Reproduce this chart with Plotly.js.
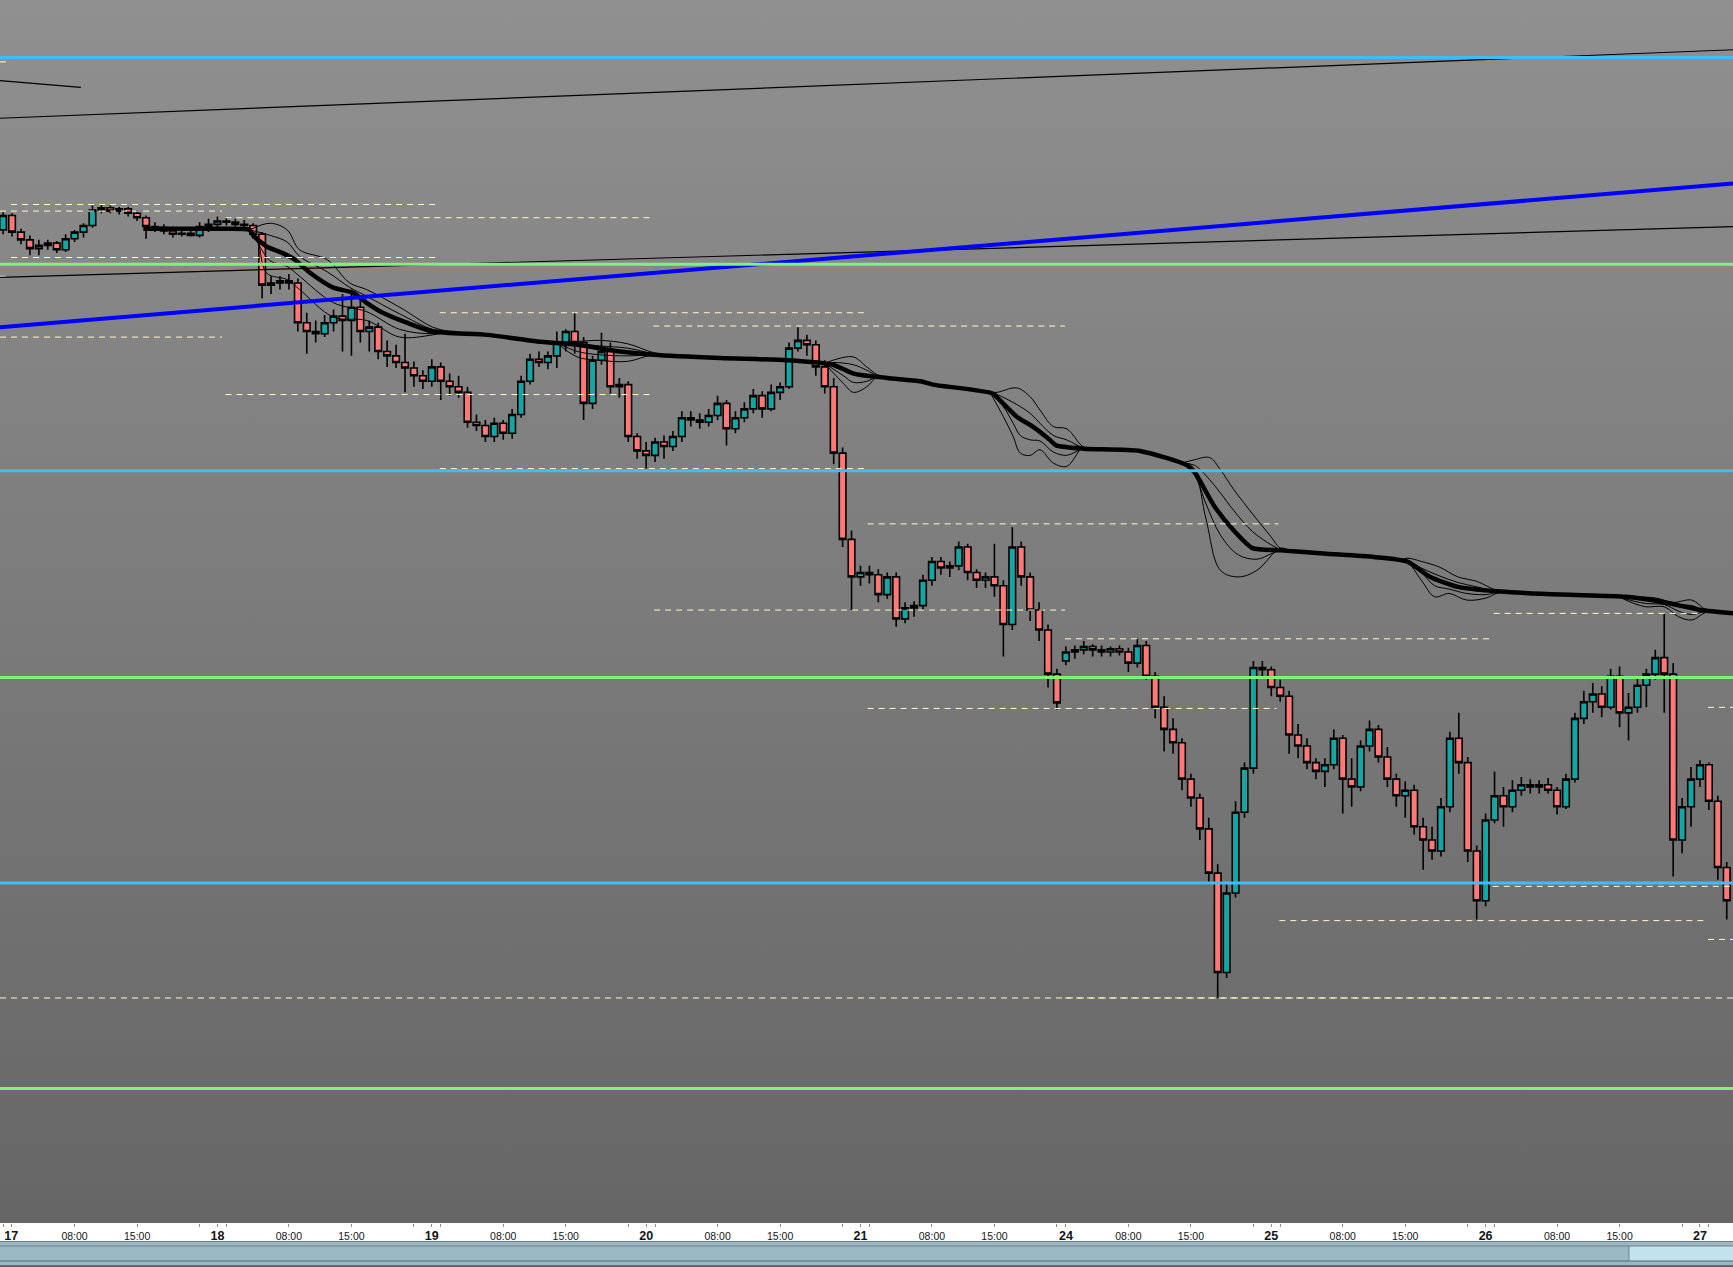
<!DOCTYPE html>
<html><head><meta charset="utf-8">
<script src="https://cdn.plot.ly/plotly-3.0.1.min.js"></script>
<style>
html,body{margin:0;padding:0;background:#666;}
#chart{width:1733px;height:1267px;background:linear-gradient(to bottom,#909090 0px,#666666 1223px,#666666 1267px);}
</style></head><body><div id="chart"></div>
<script>
// ---- hourly OHLC (price units), bar index = trading hour from the 17th ----
const openP  = [938,951,936,929,921,924,926,920,930,936,942,956,958,955,957,953,949,941,940,937,934,935,933,941,
 943,946,945,943,942,934,888,890,892,890,854,846,844,854,860,856,868,846,850,828,824,818,813,806,
 801,814,801,796,791,764,761,751,763,754,771,801,821,818,824,836,846,836,781,820,828,796,798,751,
 738,734,746,742,751,768,766,764,770,781,758,768,776,788,776,791,796,831,838,834,814,796,736,658,
 624,628,626,608,624,586,596,598,621,638,632,634,651,628,621,624,616,581,651,624,594,576,536,
 548,556,558,561,558,556,559,556,546,562,534,506,486,474,441,424,396,356,266,338,411,451,542,
 540,524,516,481,471,456,448,454,478,441,434,471,486,461,441,426,431,398,386,376,416,478,456,376,
 331,404,426,416,431,436,434,436,431,416,441,496,511,518,506,534,501,506,526,536,551,536,386,416,
 441,454,421,361];
const highP  = [954,953,939,933,929,929,928,934,938,944,960,961,960,959,959,956,951,945,943,941,938,938,945,948,
 950,949,948,947,944,936,896,896,898,894,863,856,861,866,880,884,876,856,854,838,834,844,819,811,
 821,818,808,806,796,771,766,768,766,776,806,826,828,828,846,848,863,841,824,845,836,804,801,754,
 746,750,752,756,774,774,772,776,788,784,774,782,794,792,798,800,836,850,843,838,820,804,741,666,
 634,634,631,628,628,601,602,626,642,642,638,656,654,631,628,654,621,669,656,628,601,581,541,
 561,562,566,563,562,561,562,560,568,566,538,516,496,478,446,428,406,364,346,421,456,548,548,
 543,531,521,491,478,460,460,486,481,460,476,494,490,470,446,439,436,406,398,424,484,501,461,381,
 410,448,434,440,443,441,440,442,434,446,501,521,528,525,541,543,519,534,541,558,591,546,424,452,
 458,456,426,366];
const lowP   = [934,932,925,915,915,920,917,918,927,931,940,953,953,952,950,946,930,936,934,931,932,932,931,936,
 940,942,940,939,930,876,880,884,884,846,826,836,841,846,828,824,836,828,821,814,813,791,796,794,
 796,784,788,786,759,756,746,746,748,749,768,798,814,812,813,828,826,766,776,816,790,786,746,731,
 722,728,731,738,746,760,758,760,766,743,754,764,772,768,774,784,794,828,824,806,790,726,651,594,
 616,618,601,604,579,582,588,594,616,626,624,630,621,614,614,606,552,576,616,584,566,524,504,
 544,550,554,552,552,552,553,538,542,531,496,466,464,431,416,386,346,243,261,334,406,446,532,
 516,511,464,460,450,441,434,450,410,416,430,466,456,434,416,406,391,359,368,371,411,446,366,314,
 326,401,398,411,426,428,428,428,409,414,438,491,501,497,504,488,476,501,506,531,501,353,374,398,
 434,413,350,314];
const closeP = [951,936,929,921,924,926,920,930,936,942,956,958,955,957,953,949,941,940,937,934,935,933,941,943,
 946,945,943,942,934,888,890,892,890,854,846,844,854,860,856,868,846,850,828,824,818,813,806,801,
 814,801,796,791,764,761,751,763,754,771,801,821,818,824,836,846,836,781,820,828,796,798,751,738,
 734,746,742,751,768,766,764,770,781,758,768,776,788,776,791,796,831,838,834,814,796,736,658,624,
 628,626,608,624,586,596,598,621,638,632,634,651,628,621,624,616,581,651,624,594,576,536,510,
 556,558,561,558,556,559,556,546,562,534,506,486,474,441,424,396,356,266,338,411,451,542,540,
 524,516,481,471,456,448,454,478,441,434,471,486,461,441,426,431,398,386,376,416,478,456,376,331,
 404,426,416,431,436,434,436,431,416,441,496,511,518,506,534,501,506,526,536,551,536,386,416,441,
 454,421,361,331];
const barHours = openP.map((_, i) => i);

// ---- time axis ----
const tickHours  = [0.9,8,15,24,32,39,48,56,63,72,80,87,96,104,111,119,126,133,142,150,157,166,174,181,190];
const tickLabels = ['17','08:00','15:00','18','08:00','15:00','19','08:00','15:00','20','08:00','15:00',
 '21','08:00','15:00','24','08:00','15:00','25','08:00','15:00','26','08:00','15:00','27'];
const minorTickHours = [0,22,25,46,49,70,73,94,97,118,140,143,164,167,188,191];

// ---- moving-average ribbon ----
const maX = [15.7,24.3,27.6,28.0,29.5,31.3,32.5,34.4,36.9,39.2,40.7,42.5,45.2,48.1,54.2,59.8,64.3,69.1,72.8,80.3,87.8,
 92.9,95.2,99.0,102.7,104.1,110.8,111.6,113.5,115.3,117.2,117.9,121.0,127.3,132.6,133.4,135.7,137.8,139.9,143.0,
 148.2,153.5,157.2,159.8,162.9,167.2,174.5,181.7,186.0,190.1,193.7];
const maY = [939,939,938,933,923,917,912,899,886,881,872,863,854,846,843,837,834,828,825,822,820,
 816,808,804,801,798,790,784,769,760,748,743,740,738,725,719,687,666,650,648,
 645,642,638,624,615,611,608,606,601,594,591];

const ribbonOuterUpX = [27.6,29.9,31.8,33.2,36.3,38.8,40.7,44.4,48.1,50.0,null,62,64.3,66.8,69.9,72.8,75,null,
 92,92.9,95.2,96.7,97.9,99.5,null,110.5,111.3,113.5,115.0,116.1,117.6,119.1,120.9,122,null,
 132,133.4,135.1,136.3,137.8,139.9,142.0,143.0,144,null,156.5,157.2,158.8,160.8,162.9,165.0,167.2,168.5,null,
 181,181.7,185.0,187.0,189.1,190.7,192];
const ribbonOuterUpY = [938,944,938,920,911,890,884,868,850,846,null,836,837,838,835,827,824,null,
 817,820,823,814,807,804,null,791,791,795,787,775,760,758,742,740,null,
 727,730,732,721,703,681,660,650,648,null,639,641,638,633,624,620,612,611,null,
 606,606,605,601,603,594,592];
const ribbonInnerUpX = ribbonOuterUpX.slice();
const ribbonInnerUpY = [938,933,927,914,900,886,878,862,848,846,null,836,835,833,831,826,824,null,
 817,818,816,811,806,804,null,791,789,780,772,763,752,748,741,740,null,
 727,725,712,700,684,665,653,649,648,null,639,639,632,625,619,615,611,611,null,
 606,606,603,599,598,593,592];
const ribbonInnerLowX = [27.6,28.6,29.9,31.8,33.2,37.0,40.7,44.4,48.1,50.0,null,62,64.3,66.8,69.9,72.8,75,null,
 92,94.1,95.2,96.7,97.9,99.5,null,110.5,112.0,113.1,113.9,115.0,116.1,117.6,119.1,120.9,122,null,
 132,133.4,134.7,136.3,138.3,140.4,142.0,143.0,144,null,156.5,157.2,158.8,160.3,161.9,163.9,166.1,167.2,168.5,null,
 181,181.7,183.9,186.0,187.6,189.1,190.7,192];
const ribbonInnerLowY = [938,925,910,905,896,872,864,848,844,846,null,836,828,825,824,825,824,null,
 817,806,800,801,805,804,null,791,778,763,752,748,747,737,734,740,740,null,
 727,716,690,662,644,640,645,648,648,null,639,638,628,616,613,609,608,610,611,null,
 606,604,600,599,593,590,593,592];
const ribbonOuterLowX = [27.6,28.4,29.5,31.8,33.2,37.0,40.7,44.4,48.1,50.0,null,62,64.3,66.8,69.9,72.8,75,null,
 92,94.1,95.2,96.7,97.9,99.5,null,110.5,112.0,113.1,113.9,115.0,116.1,117.6,119.1,120.9,122,null,
 132,133.4,134.7,136.3,138.3,140.4,143.0,144,null,156.5,157.2,158.8,160.3,161.9,163.9,166.1,167.2,168.5,null,
 181,181.7,183.9,186.0,187.6,189.1,190.7,192];
const ribbonOuterLowY = [938,932,899,893,884,859,856,841,843,846,null,836,823,820,819,825,824,null,
 817,799,791,796,805,804,null,791,769,751,736,734,739,727,724,741,740,null,
 727,719,676,630,624,630,650,648,null,639,638,621,606,609,603,605,609,611,null,
 606,603,597,597,588,585,592,592];

// ---- horizontal levels ----
const levelPrices = [1094,907,720,533,347,161];
const levelKinds  = ['blue','green','blue','green','blue','green'];

// ---- prior-day high/low dashed segments ----
const dashLevel = [1090,961,955,949,913,896,863,851,841,789,722,672,594,568,505,591,506,344,313,296,243,243];
const dashFrom  = [-0.35,0.89,-0.35,24.9,0.89,-0.35,48.9,72.8,-0.35,24.9,48.9,96.8,72.9,118.9,96.8,166.9,190.9,166.8,142.9,190.9,-0.35,118.9];
const dashTo    = [0.89,48.5,24.5,72.7,48.5,0.89,96.7,118.9,24.5,72.7,96.7,142.8,118.9,166.5,142.6,190,193.7,193.7,190.8,193.7,193.7,166.5];

// ---- trend lines ----
const trendUpperX = [-0.35,193.7], trendUpperY = [1039,1101];
const trendShortX = [-0.35,8.7],   trendShortY = [1073,1067];
const trendMidX   = [-0.35,193.7], trendMidY   = [895,941];
const trendBlueX  = [-0.35,193.7], trendBlueY  = [850,980];

// ================= build =================
const dashX = [], dashY = [];
dashLevel.forEach((p, i) => { dashX.push(dashFrom[i], dashTo[i], null); dashY.push(p, p, null); });

const thin = (x, y) => ({type:'scatter', mode:'lines', x, y, connectgaps:false,
  line:{color:'#000', width:1, shape:'spline', smoothing:1}, hoverinfo:'skip'});

const traces = [
  {type:'candlestick', x:barHours, open:openP, high:highP, low:lowP, close:closeP,
   increasing:{line:{color:'#000', width:1.6}, fillcolor:'#14a5a5'},
   decreasing:{line:{color:'#000', width:1.6}, fillcolor:'#ff7878'},
   whiskerwidth:0, hoverinfo:'skip'},
  thin(ribbonOuterUpX, ribbonOuterUpY),
  thin(ribbonInnerUpX, ribbonInnerUpY),
  thin(ribbonInnerLowX, ribbonInnerLowY),
  thin(ribbonOuterLowX, ribbonOuterLowY),
  {type:'scatter', mode:'lines', x:maX, y:maY, line:{color:'#000', width:4.5, shape:'spline', smoothing:0.6}, hoverinfo:'skip'},
  {type:'scatter', mode:'lines', x:dashX, y:dashY, connectgaps:false, line:{color:'#fffbc8', width:1, dash:'6px,5px'}, hoverinfo:'skip'},
  {type:'scatter', mode:'lines', x:trendUpperX, y:trendUpperY, line:{color:'#000', width:1.2}, hoverinfo:'skip'},
  {type:'scatter', mode:'lines', x:trendShortX, y:trendShortY, line:{color:'#000', width:1.2}, hoverinfo:'skip'},
  {type:'scatter', mode:'lines', x:trendMidX, y:trendMidY, line:{color:'#000', width:1.2}, hoverinfo:'skip'},
  {type:'scatter', mode:'lines', x:trendBlueX, y:trendBlueY, line:{color:'#0000ff', width:4}, hoverinfo:'skip'}
];

const levelColor = {blue:'#42bcf6', green:'#7cf47a'};
const shapes = levelPrices.map((p, i) => ({type:'line', xref:'paper', x0:0, x1:1, yref:'y', y0:p, y1:p,
  line:{color:levelColor[levelKinds[i]], width:3}, layer:'above'}));

// bottom strip (time axis band and scroll bar), in paper units below the plot
const H = 1223, py = px => (H - px) / H;
shapes.push(
  {type:'rect', xref:'paper', yref:'paper', x0:0, x1:1, y0:py(1241), y1:0, fillcolor:'#ffffff', line:{width:0}, layer:'below'},
  {type:'rect', xref:'paper', yref:'paper', x0:0, x1:1, y0:py(1267), y1:py(1241), fillcolor:'#9bb9c5', line:{width:0}, layer:'below'},
  {type:'rect', xref:'paper', yref:'paper', x0:1629/1733, x1:1, y0:py(1261), y1:py(1246), fillcolor:'#c2e2ee', line:{width:0}, layer:'below'},
  {type:'line', xref:'paper', yref:'paper', x0:0, x1:1, y0:py(1241.5), y1:py(1241.5), line:{color:'#6e818a', width:1}, layer:'below'},
  {type:'line', xref:'paper', yref:'paper', x0:0, x1:1, y0:py(1246), y1:py(1246), line:{color:'#6e818a', width:1}, layer:'below'},
  {type:'line', xref:'paper', yref:'paper', x0:0, x1:1, y0:py(1261), y1:py(1261), line:{color:'#51656f', width:1}, layer:'below'},
  {type:'line', xref:'paper', yref:'paper', x0:0, x1:1, y0:py(1266), y1:py(1266), line:{color:'#3f525c', width:1.5}, layer:'below'},
  {type:'line', xref:'paper', yref:'paper', x0:1629/1733, x1:1629/1733, y0:py(1261), y1:py(1246), line:{color:'#6e858f', width:1}, layer:'below'}
);

const tickText = tickLabels.map(t => t.includes(':') ? t : '<b><span style="font-size:12.5px">' + t + '</span></b>');

const layout = {
  width:1733, height:1267,
  margin:{l:0, r:0, t:0, b:44, pad:0},
  paper_bgcolor:'rgba(0,0,0,0)', plot_bgcolor:'rgba(0,0,0,0)',
  showlegend:false, hovermode:false, boxgap:0.22, boxgroupgap:0.05,
  xaxis:{range:[-0.35,193.7], tickmode:'array', tickvals:tickHours, ticktext:tickText,
    ticks:'outside', ticklen:3, tickwidth:1, tickcolor:'#8c8c8c',
    showgrid:false, zeroline:false, showline:false, rangeslider:{visible:false}, fixedrange:true,
    tickfont:{family:'Liberation Sans, Arial, sans-serif', size:10.5, color:'#141414'},
    minor:{tickmode:'array', tickvals:minorTickHours, ticks:'outside', ticklen:3, tickwidth:1, tickcolor:'#8c8c8c', showgrid:false}},
  yaxis:{range:[39.4,1146], visible:false, showgrid:false, zeroline:false, fixedrange:true},
  shapes
};

Plotly.newPlot('chart', traces, layout, {displayModeBar:false, staticPlot:true});
</script></body></html>
